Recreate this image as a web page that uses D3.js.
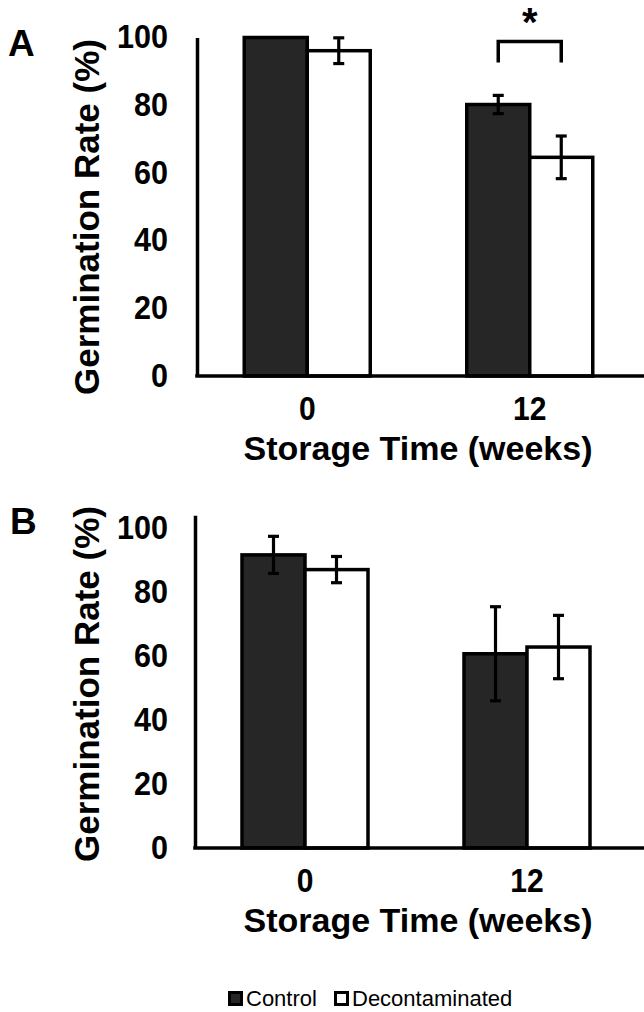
<!DOCTYPE html>
<html><head><meta charset="utf-8">
<script src="https://cdn.jsdelivr.net/npm/d3@7"></script>
<style>
body{margin:0;background:#fff}
svg{display:block}
text{font-family:"Liberation Sans",Arial,Helvetica,sans-serif}
</style>
</head><body>
<svg id="c" width="644" height="1012"></svg>
<script>
// ---- data ----
const categories = ["0", "12"];
const seriesNames = ["Control", "Decontaminated"];
const yTickValues = [0, 20, 40, 60, 80, 100];
const aControl = [100, 80.2];
const aControlErr = [0, 2.7];
const aDecon = [96.1, 64.6];
const aDeconErr = [3.8, 6.3];
const bControl = [91.6, 60.7];
const bControlErr = [5.8, 14.7];
const bDecon = [87.0, 62.8];
const bDeconErr = [4.1, 9.9];
const sigA = { category: "12", label: "*", top: 98.8, bottom: 92.6 };
const xTitle = "Storage Time (weeks)";
const yTitle = "Germination Rate (%)";

const svg = d3.select("#c");
svg.append("rect").attr("width", 644).attr("height", 1012).attr("fill", "#fff");
const fills = { Control: "#262626", Decontaminated: "#ffffff" };

function drawPanel(o) {
  const g = svg.append("g");
  const y = d3.scaleLinear().domain([0, o.yMax]).range([o.y0, o.y0 - o.yMax * o.ppu]);
  const x0 = d3.scaleBand().domain(categories).range(o.xRange);
  const pairW = 126;
  const x1 = d3.scaleBand().domain(seriesNames).range([0, pairW]);
  const off = (x0.bandwidth() - pairW) / 2;
  const rows = [];
  categories.forEach((c, i) => {
    rows.push({ c, s: "Control", v: o.control[i], e: o.controlErr[i] });
    rows.push({ c, s: "Decontaminated", v: o.decon[i], e: o.deconErr[i] });
  });
  const bx = d => x0(d.c) + off + x1(d.s);
  const cx = d => bx(d) + x1.bandwidth() / 2;

  g.selectAll("rect.bar").data(rows).join("rect").attr("class", "bar")
    .attr("x", bx).attr("y", d => y(d.v))
    .attr("width", x1.bandwidth()).attr("height", d => y(0) - y(d.v))
    .attr("fill", d => fills[d.s]).attr("stroke", "#000").attr("stroke-width", 3.5);

  const eb = rows.filter(d => d.e > 0);
  const eg = g.append("g").attr("stroke", "#000").attr("stroke-width", 3.2);
  eg.selectAll("line.v").data(eb).join("line")
    .attr("x1", cx).attr("x2", cx).attr("y1", d => y(d.v + d.e)).attr("y2", d => y(d.v - d.e));
  eg.selectAll("line.t").data(eb).join("line")
    .attr("x1", d => cx(d) - 5.5).attr("x2", d => cx(d) + 5.5)
    .attr("y1", d => y(d.v + d.e)).attr("y2", d => y(d.v + d.e));
  eg.selectAll("line.b").data(eb).join("line")
    .attr("x1", d => cx(d) - 5.5).attr("x2", d => cx(d) + 5.5)
    .attr("y1", d => y(d.v - d.e)).attr("y2", d => y(d.v - d.e));

  // y axis
  const yAxis = d3.axisLeft(y).tickValues(yTickValues).tickSize(0).tickPadding(o.tickPad);
  const ya = g.append("g").attr("transform", `translate(${o.axisX},0)`).call(yAxis);
  ya.select(".domain").attr("stroke", "#000").attr("stroke-width", 3.5);
  ya.selectAll("text")
    .attr("font-size", 34).attr("font-weight", "bold").attr("fill", "#000")
    .attr("textLength", function () { return this.textContent.length * 17; })
    .attr("lengthAdjust", "spacingAndGlyphs")
    .attr("dy", "0.30em");

  // x axis
  const xAxis = d3.axisBottom(x0).tickSize(0).tickPadding(0);
  const xa = g.append("g").attr("transform", `translate(0,${o.y0})`).call(xAxis);
  xa.select(".domain").remove();
  xa.selectAll("text")
    .attr("font-size", 34).attr("font-weight", "bold").attr("fill", "#000")
    .attr("y", 44).attr("dy", 0)
    .attr("textLength", function () { return this.textContent.length * 16.7; })
    .attr("lengthAdjust", "spacingAndGlyphs");
  g.append("line").attr("x1", o.axisX - 1.75).attr("x2", 644).attr("y1", o.y0).attr("y2", o.y0)
    .attr("stroke", "#000").attr("stroke-width", 3.5);

  // titles
  g.append("text").attr("x", 418).attr("y", o.y0 + o.xTitleGap)
    .attr("text-anchor", "middle").attr("font-size", 34).attr("font-weight", "bold")
    .text(xTitle);
  g.append("text").attr("transform", `translate(99,${o.yTitleCenter}) rotate(-90)`)
    .attr("text-anchor", "middle").attr("font-size", 35).attr("font-weight", "bold")
    .text(yTitle);
  g.append("text").attr("x", o.letterX).attr("y", o.letterY)
    .attr("font-size", 37).attr("font-weight", "bold").text(o.letter);

  if (o.sig) {
    const c = rows.find(d => d.c === o.sig.category && d.s === "Control");
    const dcn = rows.find(d => d.c === o.sig.category && d.s === "Decontaminated");
    const xa1 = cx(c), xa2 = cx(dcn);
    g.append("path")
      .attr("d", `M${xa1},${y(o.sig.bottom)}V${y(o.sig.top)}H${xa2}V${y(o.sig.bottom)}`)
      .attr("fill", "none").attr("stroke", "#000").attr("stroke-width", 3.5);
    g.append("text").attr("x", (xa1 + xa2) / 2).attr("y", 36)
      .attr("text-anchor", "middle").attr("font-size", 40).attr("font-weight", "bold")
      .text(o.sig.label);
  }
}

drawPanel({
  letter: "A", letterX: 8, letterY: 56,
  control: aControl, controlErr: aControlErr, decon: aDecon, deconErr: aDeconErr,
  yMax: 100, y0: 376, ppu: 3.385, axisX: 197, xRange: [196, 641], tickPad: 29,
  xTitleGap: 84, yTitleCenter: 217, sig: sigA
});
drawPanel({
  letter: "B", letterX: 10, letterY: 534,
  control: bControl, controlErr: bControlErr, decon: bDecon, deconErr: bDeconErr,
  yMax: 104, y0: 848, ppu: 3.2, axisX: 195, xRange: [194, 638], tickPad: 27,
  xTitleGap: 84, yTitleCenter: 684, sig: null
});

// legend
const leg = svg.append("g");
const legX = [228, 334];
seriesNames.forEach((s, i) => {
  leg.append("rect").attr("x", legX[i] + 1.5).attr("y", 992.5).attr("width", 12).attr("height", 12)
    .attr("fill", fills[s]).attr("stroke", "#000").attr("stroke-width", 3);
  leg.append("text").attr("x", legX[i] + 18).attr("y", 1006)
    .attr("font-size", 22).attr("fill", "#000").text(s);
});
</script>
</body></html>
